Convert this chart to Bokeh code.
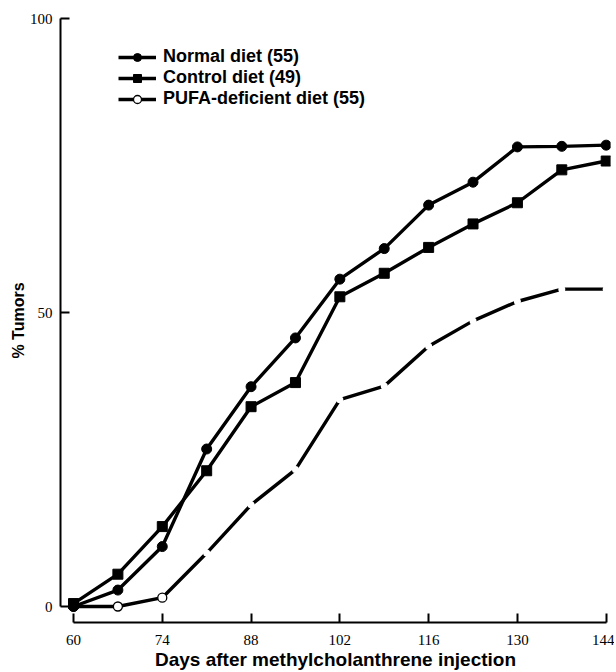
from bokeh.plotting import figure
from bokeh.models import Range1d, FixedTicker, Legend, LegendItem
from bokeh.embed import file_html
from bokeh.resources import INLINE

days = [60, 67, 74, 81, 88, 95, 102, 109, 116, 123, 130, 137, 144]
normal = [0, 2.8, 10.2, 26.8, 37.4, 45.7, 55.7, 60.9, 68.3, 72.2, 78.2, 78.3, 78.5]
control = [0.5, 5.5, 13.6, 23.1, 34.0, 38.1, 52.7, 56.7, 61.1, 65.1, 68.7, 74.3, 75.8]
pufa = [0, 0, 1.5, 9.1, 17.3, 23.3, 35.2, 37.5, 44.3, 48.6, 51.9, 54.0, 54.0]
x_ticks = [60, 74, 88, 102, 116, 130, 144]
y_ticks = [0, 50, 100]
labels = ["Normal diet (55)", "Control diet (49)", "PUFA-deficient diet (55)"]

p = figure(width=614, height=672, output_backend="svg", toolbar_location=None,
           x_range=Range1d(57.95, 144.68), y_range=Range1d(-2.72, 100.05),
           min_border_left=60, min_border_right=4, min_border_top=18, min_border_bottom=49)
p.outline_line_color = None
p.xgrid.visible = False
p.ygrid.visible = False
p.background_fill_color = "white"
p.border_fill_color = "white"

# PUFA: solid line broken at the data points
pl = p.line(days, pufa, line_color="black", line_width=3.4)
p.scatter(days[3:], pufa[3:], size=7, marker="circle", fill_color="white", line_color=None)
po = p.scatter(days[:3], pufa[:3], size=9, marker="circle", fill_color="white",
               line_color="black", line_width=1.3)

nl = p.line(days, normal, line_color="black", line_width=3.4)
ns = p.scatter(days, normal, size=10, marker="circle", fill_color="black", line_color="black")

cl = p.line(days, control, line_color="black", line_width=3.4)
cs = p.scatter(days, control, size=10, marker="square", fill_color="black", line_color="black")

legend = Legend(items=[LegendItem(label=labels[0], renderers=[nl, ns]),
                       LegendItem(label=labels[1], renderers=[cl, cs]),
                       LegendItem(label=labels[2], renderers=[pl, po])],
                location=(58, 513))
legend.border_line_color = None
legend.background_fill_alpha = 0
legend.padding = 0
legend.margin = 0
legend.spacing = 0
legend.glyph_width = 38
legend.glyph_height = 20
legend.label_height = 20
legend.label_standoff = 7
legend.label_text_font = "Liberation Sans"
legend.label_text_font_size = "18px"
legend.label_text_font_style = "bold"
legend.label_text_color = "black"
legend.label_text_baseline = "middle"
p.add_layout(legend)

xa = p.xaxis[0]
xa.ticker = FixedTicker(ticks=x_ticks)
xa.bounds = (60, 144)
xa.axis_line_width = 2
xa.axis_line_color = "black"
xa.major_tick_in = 9
xa.major_tick_out = 0
xa.major_tick_line_width = 2
xa.major_tick_line_color = "black"
xa.minor_tick_line_color = None
xa.major_label_text_font = "Liberation Serif"
xa.major_label_text_font_size = "15px"
xa.major_label_text_color = "black"
xa.major_label_standoff = 12
xa.axis_label = "Days after methylcholanthrene injection"
xa.axis_label_text_font = "Liberation Sans"
xa.axis_label_text_font_size = "19px"
xa.axis_label_text_font_style = "bold"
xa.axis_label_text_color = "black"
xa.axis_label_standoff = 1

ya = p.yaxis[0]
ya.ticker = FixedTicker(ticks=y_ticks)
ya.bounds = (0, 100)
ya.axis_line_width = 2
ya.axis_line_color = "black"
ya.major_tick_in = 9
ya.major_tick_out = 0
ya.major_tick_line_width = 2
ya.major_tick_line_color = "black"
ya.minor_tick_line_color = None
ya.major_label_text_font = "Liberation Serif"
ya.major_label_text_font_size = "15px"
ya.major_label_text_color = "black"
ya.major_label_standoff = 8
ya.axis_label = "% Tumors"
ya.axis_label_text_font = "Liberation Sans"
ya.axis_label_text_font_size = "16px"
ya.axis_label_text_font_style = "bold"
ya.axis_label_text_color = "black"
ya.axis_label_standoff = 0

open("out.html", "w").write(file_html(p, INLINE))
